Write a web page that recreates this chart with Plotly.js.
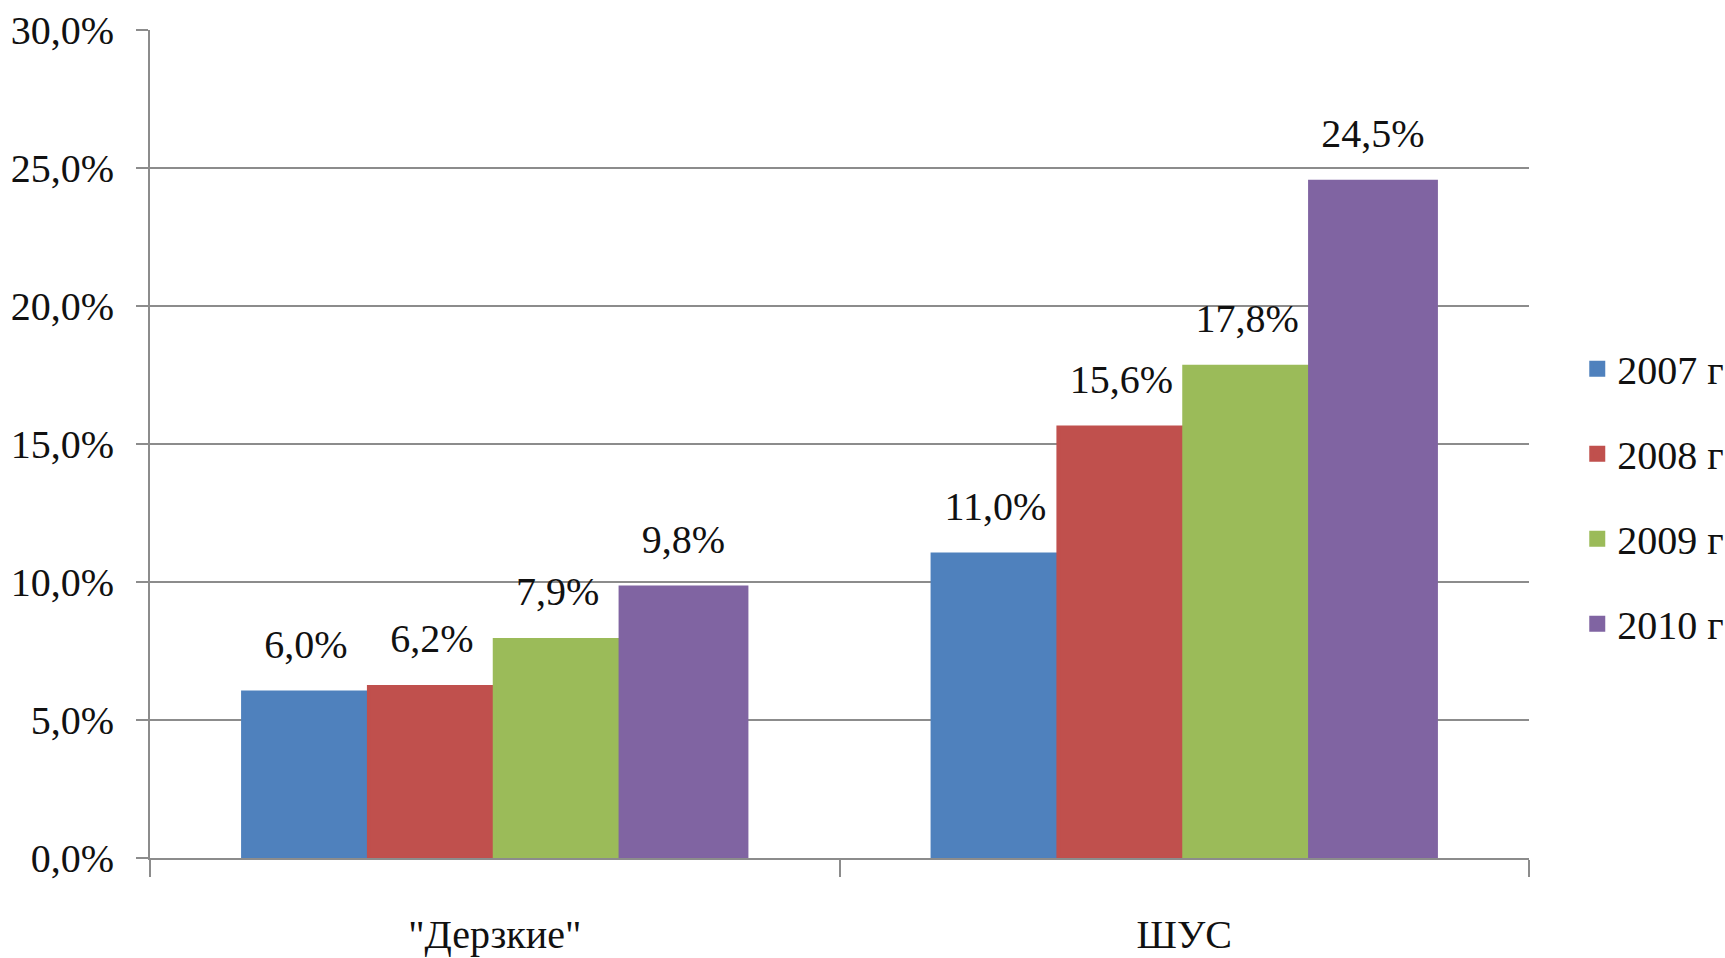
<!DOCTYPE html>
<html>
<head>
<meta charset="utf-8">
<script src="https://cdn.plot.ly/plotly-3.0.1.min.js"></script>
<style>html,body{margin:0;padding:0;background:#fff;}#chart{width:1725px;height:958px;}</style>
</head>
<body>
<div id="chart"></div>
<script>
const categories = ['"Дерзкие"', 'ШУС'];
const seriesNames = ['2007 г', '2008 г', '2009 г', '2010 г'];
const values2007 = [6.0, 11.0];
const values2008 = [6.2, 15.6];
const values2009 = [7.9, 17.8];
const values2010 = [9.8, 24.5];
const yTicks = [0, 5, 10, 15, 20, 25, 30];
const yTickLabels = ['0,0%', '5,0%', '10,0%', '15,0%', '20,0%', '25,0%', '30,0%'];

const seriesValues = [values2007, values2008, values2009, values2010];
const colors = ['#4F81BD', '#C0504D', '#9BBB59', '#8064A2'];
const FONT = "'Liberation Serif', 'Times New Roman', Tinos, 'Nimbus Roman', 'DejaVu Serif', serif";
const GRID = '#8c8c8c';

const traces = [];
seriesValues.forEach((vals, i) => {
  traces.push({
    type: 'bar', x: categories, y: vals, name: seriesNames[i],
    marker: {color: colors[i], line: {color: colors[i], width: 4}},
    legendgroup: 'g' + i, hoverinfo: 'skip'
  });
});
seriesValues.forEach((vals, i) => {
  traces.push({
    type: 'scatter', mode: 'markers+text', x: categories, y: vals,
    marker: {size: 38, opacity: 0, color: colors[i]},
    texttemplate: '%{y:.1f}%', textposition: 'top center',
    textfont: {family: FONT, size: 40, color: '#111'},
    showlegend: false, hoverinfo: 'skip', cliponaxis: false
  });
});

const layout = {
  width: 1725, height: 958,
  margin: {l: 150, r: 196, t: 30, b: 100, autoexpand: false},
  paper_bgcolor: '#fff', plot_bgcolor: '#fff',
  separators: ', ',
  barmode: 'group', bargap: 0.27, bargroupgap: 0,
  scattermode: 'group', scattergap: 0.27,
  font: {family: FONT, size: 40, color: '#111'},
  xaxis: {
    type: 'category', tickson: 'boundaries', ticks: 'outside', ticklen: 17,
    tickwidth: 2, tickcolor: GRID, showline: true, linecolor: GRID, linewidth: 2,
    showgrid: false, ticklabelstandoff: 40, tickfont: {family: FONT, size: 40, color: '#111'}
  },
  yaxis: {
    range: [0, 30], tickmode: 'array', tickvals: yTicks, ticktext: yTickLabels,
    ticks: 'outside', ticklen: 12, tickwidth: 2, tickcolor: GRID,
    showline: true, linecolor: GRID, linewidth: 2,
    showgrid: true, gridcolor: GRID, gridwidth: 2, zeroline: false,
    ticklabelstandoff: 14, tickfont: {family: FONT, size: 40, color: '#111'}
  },
  legend: {
    x: 1.035, xanchor: 'left', y: 0.437, yanchor: 'middle',
    font: {family: FONT, size: 40, color: '#111'},
    tracegroupgap: 30, itemwidth: 30, bgcolor: 'rgba(0,0,0,0)'
  },
  showlegend: true
};

Plotly.newPlot('chart', traces, layout, {displayModeBar: false, staticPlot: true});
</script>
</body>
</html>
